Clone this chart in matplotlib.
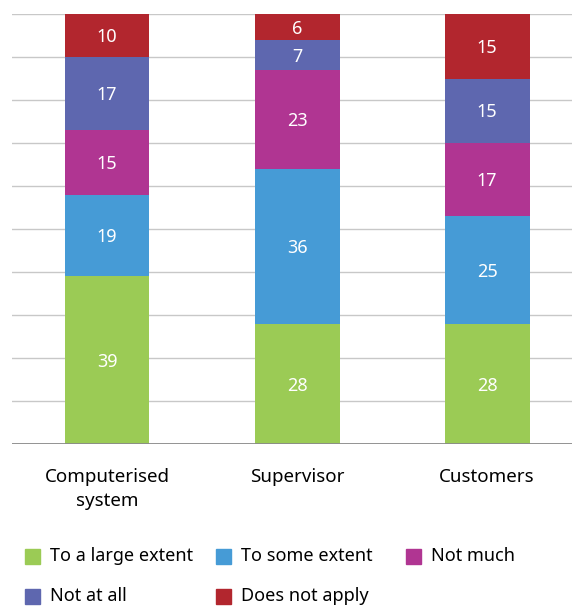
import matplotlib.pyplot as plt
from matplotlib.patches import Rectangle

categories = ['Computerised\nsystem', 'Supervisor', 'Customers']
series_names = ['To a large extent', 'To some extent', 'Not much', 'Not at all', 'Does not apply']
large_extent = [39, 28, 28]
some_extent = [19, 36, 25]
not_much = [15, 23, 17]
not_at_all = [17, 7, 15]
not_apply = [10, 6, 15]
series_values = [large_extent, some_extent, not_much, not_at_all, not_apply]
colors = ['#9BCB55', '#469BD6', '#B03592', '#5E67AF', '#B2262E']

plt.rcParams['font.family'] = ['Noto Sans', 'DejaVu Sans']

W, H = 572, 607
fig = plt.figure(figsize=(W / 100, H / 100), dpi=100)
ax = fig.add_axes([12 / W, (H - 444) / H, 560 / W, 430 / H])

x = list(range(len(categories)))
bottoms = [0] * len(categories)
for name, vals, col in zip(series_names, series_values, colors):
    bars = ax.bar(x, vals, width=0.447, bottom=bottoms, color=col, label=name, zorder=2)
    for b, v in zip(bars, vals):
        ax.text(b.get_x() + b.get_width() / 2, b.get_y() + b.get_height() / 2 - 0.4, str(v),
                ha='center', va='center', color='white', fontsize=13, zorder=3)
    bottoms = [bt + v for bt, v in zip(bottoms, vals)]

ax.set_xlim(-0.5, 2.447)
ax.set_ylim(0, 100)
ax.set_yticks(range(10, 101, 10))
for y in range(10, 101, 10):
    ax.axhline(y, color='#c8c8c8', linewidth=1.0, zorder=1)
ax.axhline(0, color='#8a8a8a', linewidth=1.3, zorder=3)
for s in ax.spines.values():
    s.set_visible(False)
ax.tick_params(axis='y', left=False, labelleft=False)
ax.tick_params(axis='x', length=0, pad=17, labelsize=13.5)
ax.set_xticks(x)
ax.set_xticklabels(categories, linespacing=1.45)

# legend, row-wise
leg_pos = [(25, 556), (216, 556), (406, 556), (25, 596), (216, 596)]
for (lx, ly), name, col in zip(leg_pos, series_names, colors):
    fig.patches.append(Rectangle((lx / W, (H - ly - 7.5) / H), 15 / W, 15 / H,
                                 transform=fig.transFigure, color=col))
    fig.text((lx + 25) / W, (H - ly) / H, name, ha='left', va='center', fontsize=13)

fig.savefig('out.png', dpi=100)
